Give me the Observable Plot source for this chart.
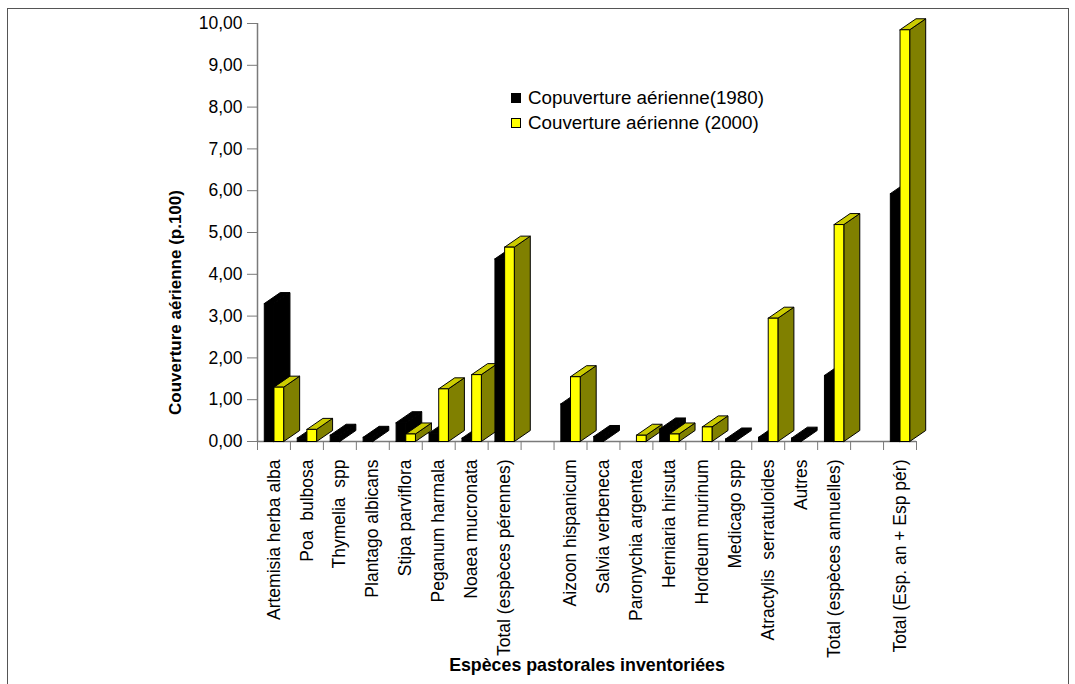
<!DOCTYPE html>
<html>
<head>
<meta charset="utf-8">
<script src="https://cdn.jsdelivr.net/npm/d3@7"></script>
<script src="https://cdn.jsdelivr.net/npm/@observablehq/plot@0.6"></script>
<style>
  body { margin: 0; background: #fff; font-family: "Liberation Sans", Arial, sans-serif; }
  #wrap { position: relative; width: 1075px; height: 684px; overflow: hidden; background: #fff; }
  #frame { position: absolute; left: 7px; top: 8px; width: 1062px; height: 700px; border: 1.5px solid #555; box-sizing: border-box; pointer-events: none; }
  #chart { position: absolute; left: 0; top: 0; }
  #chart svg { white-space: pre; }
  .legend { position: absolute; left: 511px; top: 85px; font-size: 18.8px; color: #000; }
  .legend .row { display: flex; align-items: center; height: 25px; }
  .legend .sw { width: 10px; height: 10px; box-sizing: border-box; margin-right: 7px; }
</style>
</head>
<body>
<div id="wrap">
  <div id="chart"></div>
  <div class="legend" id="legend"></div>
  <div id="frame"></div>
</div>
<script>
// Aerial cover (%) of inventoried pastoral species, 1980 vs 2000
const categories = [
  "Artemisia herba alba", "Poa  bulbosa", "Thymelia  spp", "Plantago albicans",
  "Stipa parviflora", "Peganum harmala", "Noaea mucronata", "Total (espèces pérennes)",
  "",
  "Aizoon hispanicum", "Salvia verbeneca", "Paronychia argentea", "Herniaria hirsuta",
  "Hordeum murinum", "Medicago spp", "Atractylis  serratuloides", "Autres",
  "Total (espèces annuelles)",
  "",
  "Total (Esp. an + Esp pér)"
];
const cover1980 = [3.30, 0.08, 0.15, 0.10, 0.45, 0.20, 0.08, 4.37, null,
                   0.90, 0.12, 0, 0.30, 0, 0.06, 0.10, 0.08, 1.58, null, 5.93];
const cover2000 = [1.30, 0.29, 0, 0, 0.18, 1.26, 1.60, 4.65, null,
                   1.55, 0, 0.15, 0.18, 0.35, 0, 2.95, 0, 5.19, null, 9.85];
const seriesNames = ["Copuverture aérienne(1980)", "Couverture aérienne (2000)"];
const yTicks = d3.range(0, 11);

// 3D box geometry, in scale units (one category = 1 unit on x)
const BAR_W = 0.294;   // front face width
const DEPTH_X = 0.485; // depth offset to the right
const DEPTH_Y = 0.263; // depth offset upward
const palettes = [
  {front: "#000000", top: "#000000", side: "#000000"},
  {front: "#ffff00", top: "#cccc00", side: "#808000"}
];

// Each face becomes a closed polygon; drawn in order left to right so nearer boxes overlap
const faces = [];
categories.forEach((c, i) => {
  [cover1980[i], cover2000[i]].forEach((v, s) => {
    if (!v) return;
    const x1 = i + 0.5 + (s - 1) * BAR_W, x2 = x1 + BAR_W;
    const pal = palettes[s];
    const poly = (id, fill, pts) =>
      pts.concat([pts[0]]).forEach(([x, y]) => faces.push({id, fill, x, y}));
    poly(`${i}-${s}-side`, pal.side, [[x2, 0], [x2 + DEPTH_X, DEPTH_Y], [x2 + DEPTH_X, v + DEPTH_Y], [x2, v]]);
    poly(`${i}-${s}-top`, pal.top, [[x1, v], [x2, v], [x2 + DEPTH_X, v + DEPTH_Y], [x1 + DEPTH_X, v + DEPTH_Y]]);
    poly(`${i}-${s}-front`, pal.front, [[x1, 0], [x2, 0], [x2, v], [x1, v]]);
  });
});

const chart = Plot.plot({
  width: 1075,
  height: 684,
  marginLeft: 257,
  marginRight: 159,
  marginTop: 23,
  marginBottom: 243,
  style: {fontFamily: "'Liberation Sans', Arial, sans-serif", background: "transparent", color: "#000"},
  x: {domain: [0, categories.length], axis: null},
  y: {domain: [0, 10], axis: null},
  color: {type: "identity"},
  marks: [
    Plot.ruleX([0], {stroke: "#7a7a7a", strokeWidth: 1.5}),
    Plot.ruleY([0], {stroke: "#7a7a7a", strokeWidth: 1.5}),
    Plot.axisY({
      ticks: yTicks,
      tickFormat: d => d.toFixed(2).replace(".", ","),
      tickSize: 10,
      tickPadding: 5,
      fontSize: 17.5,
      stroke: "#7a7a7a",
      label: null
    }),
    Plot.axisX({
      ticks: d3.range(categories.length + 1),
      tickFormat: () => "",
      tickSize: 9,
      stroke: "#7a7a7a",
      label: null
    }),
    Plot.line(faces, {
      x: "x", y: "y", z: "id", fill: "fill",
      stroke: "#000", strokeWidth: 1, strokeLinejoin: "miter", curve: "linear"
    }),
    Plot.text(categories, {
      x: (d, i) => i + 0.5, y: () => 0, text: d => d,
      rotate: -90, textAnchor: "end", dy: 18, fontSize: 17.5, fill: "#000"
    }),
    Plot.text(["Couverture aérienne (p.100)"], {
      frameAnchor: "left", dx: -82, dy: 70, rotate: -90,
      textAnchor: "middle", lineAnchor: "middle",
      fontWeight: "bold", fontSize: 17, fill: "#000"
    }),
    Plot.text(["Espèces pastorales inventoriées"], {
      frameAnchor: "bottom", dy: 224,
      textAnchor: "middle", lineAnchor: "middle",
      fontWeight: "bold", fontSize: 17.8, fill: "#000"
    })
  ]
});
document.getElementById("chart").appendChild(chart);

// Legend
const legend = document.getElementById("legend");
seriesNames.forEach((name, s) => {
  const row = document.createElement("div");
  row.className = "row";
  const sw = document.createElement("span");
  sw.className = "sw";
  sw.style.background = palettes[s].front;
  sw.style.border = "1px solid #000";
  const label = document.createElement("span");
  label.textContent = name;
  row.appendChild(sw);
  row.appendChild(label);
  legend.appendChild(row);
});
</script>
</body>
</html>
